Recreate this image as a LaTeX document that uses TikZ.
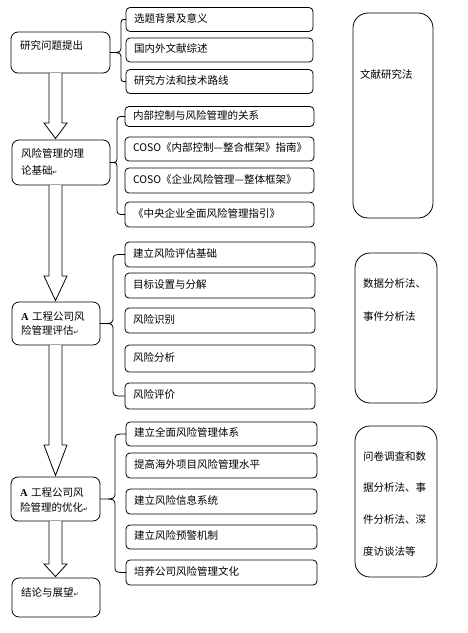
\documentclass[tikz,border=0pt]{standalone}
\usepackage{fontspec}
\setmainfont{Noto Sans CJK SC}
\newfontfamily\latinserif{Liberation Serif}
\newfontfamily\marksymbol{DejaVu Sans}
\usetikzlibrary{calc}

\newcommand{\retmark}{{\marksymbol\fontsize{6}{6}\selectfont ↵}}
% hollow block arrow between two stage boxes: from, to, head length
\newcommand{\hollowarrow}[3]{%
  \draw[blockarrow] ($(#1.south -| ax)+(-6.5,0)$) -- ($(#2.north -| ax)+(-6.5,-#3)$)
    -- ($(#2.north -| ax)+(-11.5,-#3)$) -- ($(#2.north -| ax)+(0,-1.5)$)
    -- ($(#2.north -| ax)+(11.5,-#3)$) -- ($(#2.north -| ax)+(6.5,-#3)$)
    -- ($(#1.south -| ax)+(6.5,0)$);}
% curly brace: stage box, first topic, last topic, spine coordinate
\newcommand{\groupbrace}[4]{%
  \draw[bracestyle] (#2.west) .. controls (#4 |- #2.west) .. ($(#4 |- #2.west)+(0,7)$)
    -- ($(#4 |- #1.east)+(0,-7)$) .. controls (#4 |- #1.east) .. (#1.east)
    .. controls (#4 |- #1.east) .. ($(#4 |- #1.east)+(0,7)$)
    -- ($(#4 |- #3.west)+(0,-7)$) .. controls (#4 |- #3.west) .. (#3.west);}

\begin{document}
\begin{tikzpicture}[x=1pt,y=1pt,yscale=-1,xscale=1,line width=0.8pt,
  stagebox/.style={draw, rounded corners=7pt, outer sep=0pt, inner ysep=0pt, inner xsep=9pt, align=left, anchor=north west, font=\fontsize{10.5}{15}\selectfont},
  topicbox/.style={draw, rounded corners=4pt, outer sep=0pt, inner xsep=8pt, align=left, anchor=west, minimum height=24pt, text height=8pt, text depth=2.5pt, font=\fontsize{10.5}{12}\selectfont},
  methodbox/.style={draw, rounded corners=15pt, outer sep=0pt, inner ysep=0pt, inner xsep=8pt, align=left, anchor=north west},
  blockarrow/.style={fill=white, line join=miter},
  bracestyle/.style={line cap=round}]
\useasboundingbox (0,0) rectangle (468,633);

%Stage boxes
\node[stagebox, text width=81pt, text height=17.5pt, text depth=23.5pt] (st1) at (11,32) {研究问题提出};
\node[stagebox, text width=80pt, text height=17.5pt, text depth=27.5pt, font=\fontsize{10.5}{17}\selectfont] (st2) at (12,140) {风险管理的理\\论基础\retmark};
\node[stagebox, text width=70pt, text height=18.5pt, text depth=24.5pt, font=\fontsize{10.5}{14}\selectfont] (st3) at (12,302) {{\latinserif\bfseries A} 工程公司风\\险管理评估\retmark};
\node[stagebox, text width=71pt, text height=19.5pt, text depth=24.5pt] (st4) at (11,477) {{\latinserif\bfseries A} 工程公司风\\险管理的优化\retmark};
\node[stagebox, text width=70pt, text height=18.5pt, text depth=20.5pt] (st5) at (12,578) {结论与展望\retmark};

%Topic boxes
\node[topicbox, text width=171pt] (t11) at (126,19.5) {选题背景及意义};
\node[topicbox, text width=171pt] (t12) at (126,50) {国内外文献综述};
\node[topicbox, text width=171pt] (t13) at (126,81.5) {研究方法和技术路线};

\node[topicbox, text width=173pt, minimum height=20pt] (t21) at (125,116.5) {内部控制与风险管理的关系};
\node[topicbox, text width=173pt] (t22) at (125,149) {\mbox{COSO《内部控制—整合框架》指南》}};
\node[topicbox, text width=173pt, minimum height=25pt] (t23) at (125,180.5) {\mbox{COSO《企业风险管理—整体框架》}};
\node[topicbox, text width=173pt, minimum height=25pt] (t24) at (125,214.5) {《中央企业全面风险管理指引》};

\node[topicbox, text width=174pt, minimum height=25pt] (t31) at (125,254.5) {建立风险评估基础};
\node[topicbox, text width=174pt, minimum height=25pt] (t32) at (125,285.5) {目标设置与分解};
\node[topicbox, text width=174pt, minimum height=25pt] (t33) at (125,320.5) {风险识别};
\node[topicbox, text width=174pt, minimum height=27pt] (t34) at (125,358.5) {风险分析};
\node[topicbox, text width=174pt, minimum height=26pt] (t35) at (125,396) {风险评价};

\node[topicbox, text width=175pt] (t41) at (126,434) {建立全面风险管理体系};
\node[topicbox, text width=175pt, minimum height=25pt] (t42) at (126,465.5) {提高海外项目风险管理水平};
\node[topicbox, text width=175pt, minimum height=25pt] (t43) at (126,501.5) {建立风险信息系统};
\node[topicbox, text width=175pt] (t44) at (126,537) {建立风险预警机制};
\node[topicbox, text width=175pt, minimum height=25pt] (t45) at (126,572.5) {培养公司风险管理文化};

%Method boxes
\node[methodbox, inner xsep=7pt, text width=66pt, text height=65pt, text depth=140pt, font=\fontsize{10.5}{12}\selectfont] (m1) at (353,13) {文献研究法};
\node[methodbox, text width=66pt, text height=34pt, text depth=116pt, font=\fontsize{10.5}{33}\selectfont] (m2) at (355,253) {数据分析法、\\事件分析法};
\node[methodbox, text width=66pt, text height=34pt, text depth=117pt, font=\fontsize{10.5}{31.7}\selectfont] (m3) at (355,426) {问卷调查和数\\据分析法、事\\件分析法、深\\度访谈法等};

%Arrows
\coordinate (ax) at (55.5,0);
\hollowarrow{st1}{st2}{17}
\hollowarrow{st2}{st3}{26}
\hollowarrow{st3}{st4}{32}
\hollowarrow{st4}{st5}{14}

%Braces
\coordinate (sp1) at (121,0);
\coordinate (sp2) at (117,0);
\coordinate (sp3) at (113,0);
\coordinate (sp4) at (115,0);
\groupbrace{st1}{t11}{t13}{sp1}
\groupbrace{st2}{t21}{t24}{sp2}
\groupbrace{st3}{t31}{t35}{sp3}
\groupbrace{st4}{t41}{t45}{sp4}

\end{tikzpicture}
\end{document}
